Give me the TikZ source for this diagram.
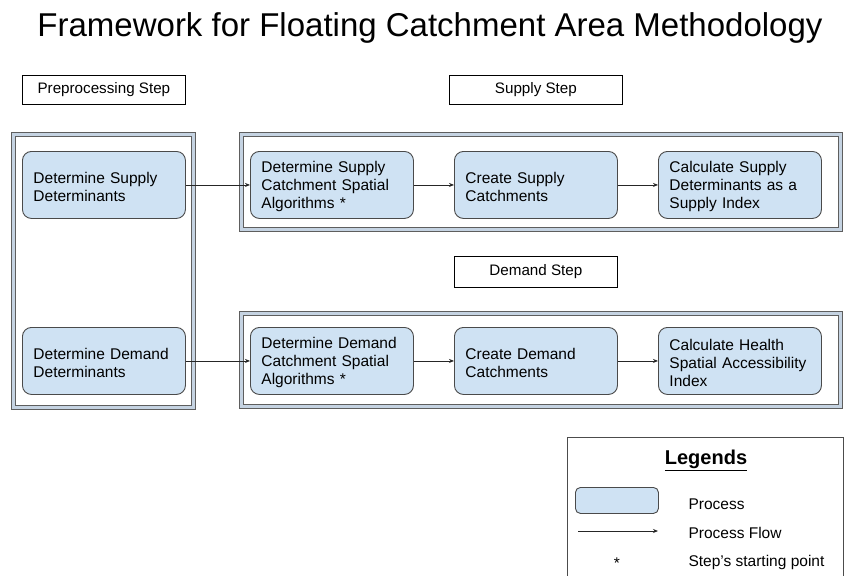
\documentclass[tikz,border=0pt]{standalone}
\usepackage{fontspec}
\setmainfont{Liberation Sans}
\usetikzlibrary{arrows.meta}
\definecolor{procfill}{HTML}{CFE2F3}
\definecolor{procline}{HTML}{4A4A4A}
\definecolor{grpline}{HTML}{5E5E5E}
\definecolor{grpfill}{HTML}{C5D3E2}
\tikzset{
  proc/.style={draw=procline, line width=0.9pt, fill=procfill, rounded corners=9pt,
    minimum width=163pt, minimum height=67pt, text width=141pt, inner xsep=11pt,
    align=left, anchor=north west, font=\fontsize{15.5}{18}\selectfont,
    execute at begin node={\rule{0pt}{15pt}}},
  steplabel/.style={draw=black, line width=0.8pt, fill=white, minimum width=163pt,
    minimum height=29pt, anchor=north west, font=\fontsize{15.2}{18}\selectfont},
  grp/.style={draw=grpline, line width=1pt, double=grpfill, double distance=3.5pt},
  flow/.style={draw=black!85, line width=0.8pt, -{Stealth[length=5pt,width=4pt]}},
  legtext/.style={anchor=west, font=\fontsize{15.5}{18}\selectfont}
}
\begin{document}
\begin{tikzpicture}[x=1pt,y=-1pt]
\clip (0,0) rectangle (845,575);
\fill[white] (0,0) rectangle (845,575);
% title
\node[font=\fontsize{33}{38}\selectfont] (title) at (430,28) {Framework for Floating Catchment Area Methodology};
% step labels
\node[steplabel] (pre) at (22,75) {Preprocessing Step};
\node[steplabel, minimum width=173pt] (sup) at (449,75) {Supply Step};
\node[steplabel, minimum height=31pt] (dem) at (454,256) {Demand Step};
% groups
\draw[grp] (13.5,134.5) rectangle (193.5,407.5);
\draw[grp] (241.5,134.5) rectangle (840.5,229.5);
\draw[grp] (241.5,313.5) rectangle (840.5,406.5);
% process boxes
\node[proc] (sd) at (22,151) {Determine Supply\\Determinants};
\node[proc] (dd) at (22,327) {Determine Demand\\Determinants};
\node[proc] (sa) at (250,151) {Determine Supply\\Catchment Spatial\\Algorithms *};
\node[proc] (sc) at (454,151) {Create Supply\\Catchments};
\node[proc] (si) at (658,151) {Calculate Supply\\Determinants as a\\Supply Index};
\node[proc] (da) at (250,327) {Determine Demand\\Catchment Spatial\\Algorithms *};
\node[proc] (dc) at (454,327) {Create Demand\\Catchments};
\node[proc] (di) at (658,327) {Calculate Health\\Spatial Accessibility\\Index};
% flows
\draw[flow] (sd) -- (sa);
\draw[flow] (sa) -- (sc);
\draw[flow] (sc) -- (si);
\draw[flow] (dd) -- (da);
\draw[flow] (da) -- (dc);
\draw[flow] (dc) -- (di);
% legend
\draw[draw=black!70, line width=0.9pt, fill=white] (567,437) rectangle (843,590);
\node[font=\fontsize{20}{24}\selectfont\bfseries] (legtitle) at (706,460) {\underline{Legends}};
\node[draw=procline, line width=0.9pt, fill=procfill, rounded corners=5pt,
  minimum width=83pt, minimum height=26pt, anchor=north west] (legproc) at (575,487) {};
\node[legtext] (lp) at (685,504) {Process};
\coordinate (la) at (578,531);
\coordinate (lb) at (658,531);
\draw[flow] (la) -- (lb);
\node[legtext] (lf) at (685,533) {Process Flow};
\node[font=\fontsize{15.5}{18}\selectfont] (ls) at (617,563) {*};
\node[legtext] (lst) at (685,562) {Step’s starting point};
\end{tikzpicture}
\end{document}
